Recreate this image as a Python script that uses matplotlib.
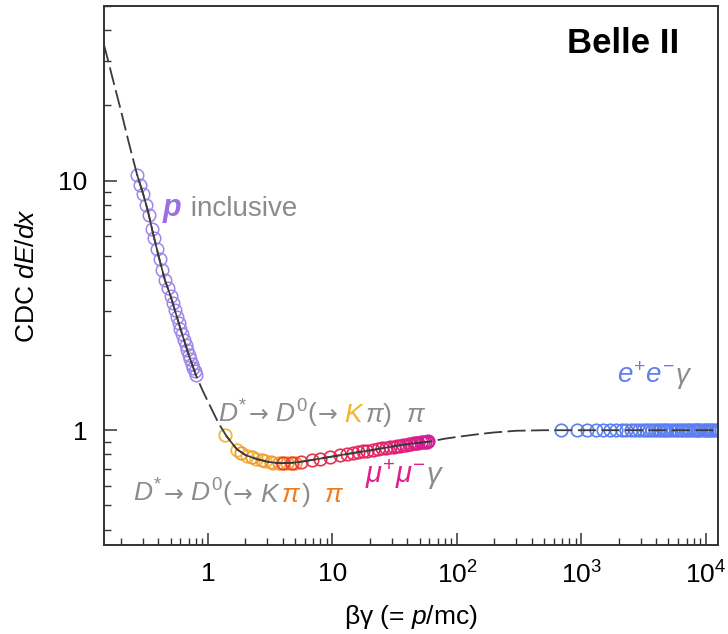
import matplotlib
matplotlib.use("Agg")
import matplotlib.pyplot as plt
import matplotlib.transforms as mtransforms
from matplotlib.colors import LinearSegmentedColormap
from matplotlib.ticker import FixedLocator, FixedFormatter, LogLocator, NullFormatter

plt.rcParams['font.family'] = ['Liberation Sans', 'DejaVu Sans']
plt.rcParams['mathtext.fontset'] = 'custom'
plt.rcParams['mathtext.rm'] = 'Liberation Sans'
plt.rcParams['mathtext.it'] = 'Liberation Sans:italic'
plt.rcParams['mathtext.bf'] = 'Liberation Sans:bold:italic'

# fitted curve
bg_curve = [0.146, 0.17, 0.2, 0.23, 0.27, 0.3, 0.33, 0.36, 0.4, 0.45, 0.5, 0.55, 0.6, 0.65,
            0.7, 0.75, 0.8, 0.9, 1.0, 1.2, 1.4, 1.7, 2.0, 2.5, 3.0, 3.5, 4.0, 5.0, 6.0, 8.0,
            10, 15, 20, 30, 40, 60, 80, 100, 150, 200, 300, 500, 1000, 3000, 13000]
dedx_curve = [35, 26, 19, 14.3, 10.5, 8.9, 7.5, 6.2, 5.0, 4.0, 3.45, 2.95, 2.55, 2.25,
              2.0, 1.82, 1.66, 1.45, 1.30, 1.08, 0.95, 0.84, 0.795, 0.765, 0.748, 0.740, 0.738, 0.742, 0.752, 0.77,
              0.785, 0.812, 0.83, 0.86, 0.88, 0.90, 0.925, 0.94, 0.965, 0.98, 0.995, 1.0, 1.0, 1.0, 1.0]

# protons
bg_p = [0.268, 0.285, 0.302, 0.318, 0.335, 0.352, 0.37, 0.39, 0.41, 0.43, 0.45, 0.475, 0.50, 0.52,
        0.54, 0.56, 0.58, 0.60, 0.62, 0.64, 0.66, 0.68, 0.70, 0.72, 0.74, 0.76, 0.78, 0.80]
dedx_p = [10.5, 9.6, 8.85, 8.0, 7.3, 6.4, 5.9, 5.3, 4.85, 4.4, 4.0, 3.7, 3.45, 3.22,
          3.02, 2.85, 2.7, 2.55, 2.42, 2.3, 2.19, 2.09, 2.0, 1.92, 1.85, 1.78, 1.72, 1.66]

# kaons from D*
bg_k = [1.37, 1.7, 2.05, 2.45, 2.85, 3.35, 3.9, 4.6]
dedx_k = [0.955, 0.83, 0.79, 0.765, 0.75, 0.742, 0.74, 0.74]

# pions from D*
bg_pi = [1.85, 2.25, 2.7, 3.2, 3.7, 4.3, 5.0]
dedx_pi = [0.81, 0.78, 0.757, 0.745, 0.74, 0.738, 0.742]

# muons
bg_mu = [4.0, 4.7, 5.6, 6.8, 7.9, 9.5, 11.5, 13, 14.5, 16, 17.5, 19, 21, 23, 25, 27, 29, 31,
         33, 35, 37, 39, 41, 43, 45, 47, 49, 51, 53, 55, 57, 59]
dedx_mu = [0.738, 0.74, 0.746, 0.758, 0.77, 0.782, 0.794, 0.805, 0.81, 0.816, 0.822, 0.828, 0.834,
           0.84, 0.846, 0.851, 0.856, 0.86, 0.864, 0.868, 0.872, 0.876, 0.879, 0.882, 0.885, 0.888,
           0.891, 0.894, 0.896, 0.898, 0.9, 0.902]

# electrons
bg_e = [680, 920, 1100, 1300, 1500, 1700, 1900, 2100, 2300, 2500, 2700, 2900, 3100, 3300, 3500,
        3700, 3900, 4100, 4300, 4500, 4700, 4900, 5100, 5400, 5700, 6000, 6300, 6600, 6900, 7200,
        7500, 7800, 8100, 8400, 8700, 9000, 9400, 9800, 10200, 10600, 11000, 11500, 12000, 12500]
dedx_e = [1.0] * len(bg_e)

xticks = [1, 10, 100, 1000, 10000]
xticklabels = ['1', '10', '$10^2$', '$10^3$', '$10^4$']
yticks = [1, 10]
yticklabels = ['1', '10']

fig = plt.figure(figsize=(7.28, 6.34), dpi=100)
ax = fig.add_axes([104 / 728, 89 / 634, 614 / 728, 539 / 634])
ax.set_xscale('log')
ax.set_yscale('log')
ax.set_xlim(0.146, 12500)
ax.set_ylim(0.347, 50)

ms = 9
ax.plot(bg_p, dedx_p, 'o', ms=ms, mfc='none', mec='#9d86e8', mew=1.1, zorder=2)
ax.plot(bg_k, dedx_k, 'o', ms=ms, mfc='none', mec='#f3b93a', mew=1.3, zorder=2)
ax.plot(bg_pi, dedx_pi, 'o', ms=ms, mfc='none', mec='#f39a3a', mew=1.3, zorder=2)
cmap = LinearSegmentedColormap.from_list('mu', ['#ea3b45', '#e6245e', '#e2207f', '#d41c9a'])
n = len(bg_mu)
for i in range(n):
    ax.plot(bg_mu[i], dedx_mu[i], 'o', ms=ms, mfc='none', mec=cmap(i / (n - 1)), mew=1.2, zorder=2)
ax.plot(bg_e, dedx_e, 'o', ms=ms, mfc='none', mec='#5b7ff0', mew=1.2, zorder=2)

# curve: dashed everywhere, solid over the data
ax.plot(bg_curve, dedx_curve, color='#3a3a3a', lw=1.3, dashes=(10, 3), zorder=3)
seg1 = [i for i, b in enumerate(bg_curve) if 0.27 <= b <= 0.8]
seg2 = [i for i, b in enumerate(bg_curve) if 1.4 <= b <= 60]
for seg in (seg1, seg2):
    ax.plot([bg_curve[i] for i in seg], [dedx_curve[i] for i in seg], color='#3a3a3a', lw=1.2, zorder=3)

ax.xaxis.set_major_locator(FixedLocator(xticks))
ax.xaxis.set_major_formatter(FixedFormatter(xticklabels))
ax.xaxis.set_minor_locator(LogLocator(base=10, subs=range(2, 10), numticks=20))
ax.xaxis.set_minor_formatter(NullFormatter())
ax.yaxis.set_major_locator(FixedLocator(yticks))
ax.yaxis.set_major_formatter(FixedFormatter(yticklabels))
ax.yaxis.set_minor_locator(LogLocator(base=10, subs=range(2, 10), numticks=20))
ax.yaxis.set_minor_formatter(NullFormatter())
ax.tick_params(which='major', direction='in', length=9, width=1.1, color='#333333',
               labelsize=19, pad=12, top=False, right=False)
ax.tick_params(which='minor', direction='in', length=5, width=1.0, color='#333333',
               top=False, right=False)
for s in ax.spines.values():
    s.set_linewidth(1.4)
    s.set_color('#333333')

ax.set_xlabel(r'βγ (= $p$/mc)', fontsize=19, labelpad=10)
ax.set_ylabel(r'CDC $dE/dx$', fontsize=19, labelpad=14)

ax.text(0.845, 0.93, 'Belle II', transform=ax.transAxes, fontsize=25, fontweight='bold',
        ha='center', va='center')


def color_text(x, y, pieces, size):
    # draw consecutive text pieces in different colours
    t = ax.transAxes
    fig.canvas.draw()
    r = fig.canvas.get_renderer()
    for p in pieces:
        kw = {'fontsize': size}
        if len(p) > 2:
            kw.update(p[2])
        gap = kw.pop('gap', 0)
        if gap:
            t = mtransforms.offset_copy(t, x=gap, units='dots')
        txt = ax.text(x, y, p[0], color=p[1], transform=t, va='baseline', **kw)
        txt.draw(r)
        ex = txt.get_window_extent(r)
        t = mtransforms.offset_copy(txt.get_transform(), x=ex.width, units='dots')


gray = '#8c8c8c'
arrow = {'family': 'DejaVu Sans', 'fontsize': 17}
color_text(0.095, 0.61, [(r'$\mathbf{p}$', '#9a6fe2', {'fontsize': 22}), (' inclusive', gray)], 20)
color_text(0.185, 0.228, [(r'$D^{*}$ ', gray), ('→', gray, arrow), (r' $D^{0}($', gray), ('→', gray, arrow),
                          (' $K$', '#f2b52a'), (r'$\pi)\ \ \pi$', gray)], 19)
color_text(0.047, 0.08, [(r'$D^{*}$ ', gray), ('→', gray, arrow), (r' $D^{0}($', gray), ('→', gray, arrow),
                         (' $K$', gray), (r'$\pi$', '#f07a1e'), (r'$)$', gray),
                         (r'$\pi$', '#f07a1e', {'gap': 14})], 19)
color_text(0.425, 0.115, [(r'$\mu^{+}\mu^{-}$', '#e0208a'), (r'$\gamma$', gray)], 21)
color_text(0.835, 0.3, [('$e^{+}e^{-}$', '#5f80ee'), (r'$\gamma$', gray)], 20)

fig.savefig('out.png', dpi=100)
